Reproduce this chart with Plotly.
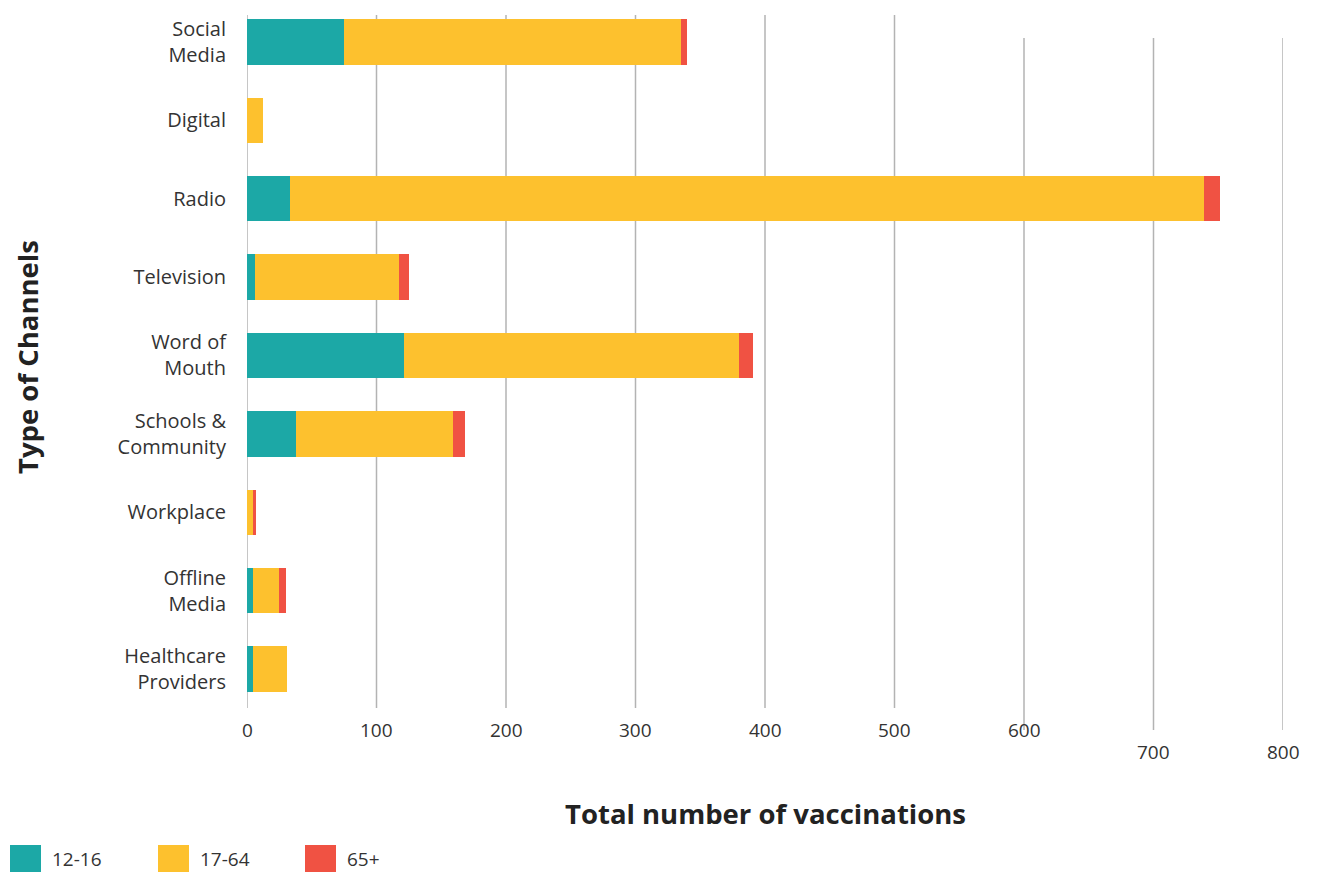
import plotly.graph_objects as go

# ---- data ----
channels = ["Social<br>Media", "Digital", "Radio", "Television", "Word of<br>Mouth",
            "Schools &<br>Community", "Workplace", "Offline<br>Media", "Healthcare<br>Providers"]
age_12_16 = [75, 0, 33, 6, 121, 38, 0, 5, 5]
age_17_64 = [260, 12, 706, 111, 259, 121, 5, 20, 26]
age_65p = [5, 0, 12, 8, 11, 9, 2, 5, 0]
series_names = ["12-16", "17-64", "65+"]
x_ticks = [0, 100, 200, 300, 400, 500, 600, 700, 800]

colors = ["#1CA8A6", "#FDC12E", "#F05243"]
W, H = 1317, 873
L, R, T, B = 247, 1283, 15, 707
FONT = "Open Sans"


def px(xp):
    return (xp - L) / (R - L)


def py(yp):
    return (B - yp) / (B - T)


fig = go.Figure()
for name, vals, c in zip(series_names, [age_12_16, age_17_64, age_65p], colors):
    fig.add_trace(go.Bar(y=channels, x=vals, name=name, orientation="h",
                         marker=dict(color=c, line=dict(width=0)), showlegend=False))

shapes = []
annotations = []
for i, v in enumerate(x_ticks):
    shifted = v >= 600
    y0 = py(730) if shifted else py(708)
    y1 = py(38) if shifted else py(15)
    shapes.append(dict(type="line", xref="x", yref="paper", x0=v, x1=v, y0=y0, y1=y1,
                       line=dict(color="#b3b3b3", width=1.5), layer="below"))
    ly = 752 if v >= 700 else 730
    annotations.append(dict(x=v, y=py(ly), xref="x", yref="paper", text=str(v),
                            showarrow=False, xanchor="center", yanchor="middle",
                            font=dict(family=FONT, size=19, color="#333333")))

# axis titles
annotations.append(dict(x=0.5, y=py(813), xref="paper", yref="paper",
                        text="<b>Total number of vaccinations</b>", showarrow=False,
                        xanchor="center", yanchor="middle",
                        font=dict(family=FONT, size=27.5, color="#222222")))
annotations.append(dict(x=px(28), y=py(357), xref="paper", yref="paper",
                        text="<b>Type of Channels</b>", showarrow=False, textangle=-90,
                        xanchor="center", yanchor="middle",
                        font=dict(family=FONT, size=27.5, color="#222222")))

# legend (manual swatches)
leg_x = [10, 158, 305]
for lx, name, c in zip(leg_x, series_names, colors):
    shapes.append(dict(type="rect", xref="paper", yref="paper",
                       x0=px(lx), x1=px(lx + 31), y0=py(872), y1=py(845),
                       fillcolor=c, line=dict(width=0)))
    annotations.append(dict(x=px(lx + 40), y=py(859), xref="paper", yref="paper",
                            text=name, showarrow=False, xanchor="left", yanchor="middle",
                            font=dict(family=FONT, size=19, color="#333333")))

fig.update_layout(
    width=W, height=H, barmode="stack", bargap=0.42,
    margin=dict(l=L, r=W - R, t=T, b=H - B),
    plot_bgcolor="white", paper_bgcolor="white",
    shapes=shapes, annotations=annotations,
    font=dict(family=FONT, size=18, color="#333333"),
    xaxis=dict(range=[0, 800], showgrid=False, zeroline=False, showticklabels=False,
               showline=False, fixedrange=True),
    yaxis=dict(type="category", categoryorder="array", categoryarray=channels,
               range=[8.485, -0.344], showgrid=False, zeroline=False, showline=False,
               ticks="", ticklabelstandoff=20,
               tickfont=dict(family=FONT, size=20, color="#333333")),
)

fig.write_html("out.html")
